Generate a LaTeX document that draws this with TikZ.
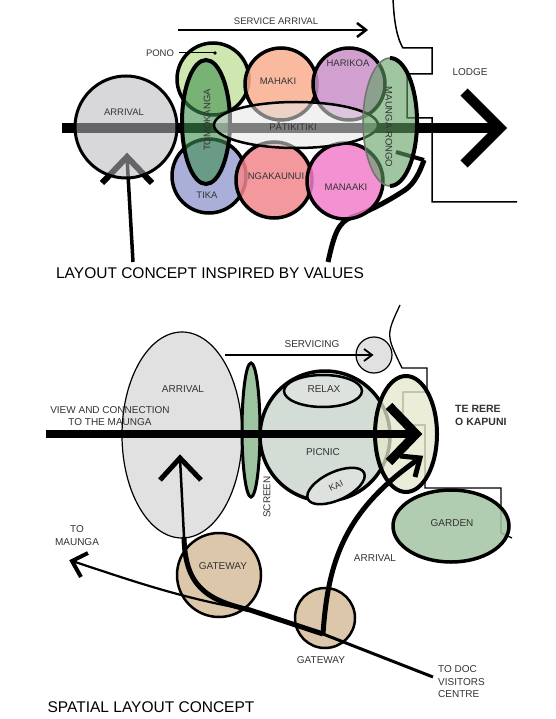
\documentclass[tikz,border=0pt]{standalone}
\usepackage{fontspec}
\setmainfont{Liberation Sans}
\usetikzlibrary{shapes.geometric}
\definecolor{pono}{HTML}{C6E3A3}
\definecolor{tika}{HTML}{9CA2D4}
\definecolor{mahaki}{HTML}{F8AE90}
\definecolor{harikoa}{HTML}{C990C9}
\definecolor{ngak}{HTML}{F2888E}
\definecolor{manaaki}{HTML}{F27ECB}
\definecolor{tomo}{HTML}{3F8F4F}
\definecolor{pati}{HTML}{E4E6E4}
\definecolor{maunga}{HTML}{5FA161}
\definecolor{arrfill}{HTML}{B8B9BC}
\definecolor{lgrey}{HTML}{E1E1E1}
\definecolor{screenc}{HTML}{9DC3A1}
\definecolor{picnic}{HTML}{D3DDD6}
\definecolor{relax}{HTML}{DEE2DE}
\definecolor{terere}{HTML}{E5E8CC}
\definecolor{garden}{HTML}{A3C5A4}
\definecolor{gate}{HTML}{DDC7AB}
\definecolor{txt}{HTML}{333333}
\begin{document}
\begin{tikzpicture}[x=1pt,y=-1pt,
  blob/.style={ellipse,inner sep=0pt,outer sep=0pt,draw=black,line width=3.5pt},
  lbl/.style={inner sep=0pt,text=txt,font=\fontsize{9.5}{11}\selectfont},
  blbl/.style={inner sep=0pt,text=txt,font=\fontsize{10}{12.5}\selectfont},
  title/.style={inner sep=0pt,text=black,font=\fontsize{15.5}{18}\selectfont},
  chev/.style={line width=#1,line join=miter,miter limit=10},
  thinline/.style={line width=1.4pt}]
\useasboundingbox (0,0) rectangle (555,719);
\fill[white] (0,0) rectangle (555,719);

% ================= TOP =================
\coordinate (t-barS) at (62,128);
\coordinate (t-tip) at (500,128);
\draw[line width=10pt] (t-barS) -- (t-tip);
\draw[chev=10pt] (464,92) -- (t-tip) -- (464,164);

% lodge outline
\draw[line width=1.5pt] (393,-2) .. controls (394,25) and (398,40) .. (403,48) -- (432,48) -- (432,74) -- (407,74) -- (407,118) -- (432,118) -- (432,202) -- (517,202);

% curved arrow
\coordinate (t-cS) at (328,262);
\coordinate (t-cT) at (424,160);
\draw[line width=5pt] (t-cS) .. controls (334,235) and (338,222) .. (352,217) .. controls (368,212) and (390,200) .. (405,190) .. controls (414,184) and (420,172) .. (t-cT);
\draw[line width=4pt] (t-cT) -- (396,152);

% arrival up arrow
\coordinate (t-aTip) at (127,157);
\coordinate (t-aEnd) at (133,262);
\draw[chev=6pt] (102,183) -- (t-aTip) -- (152,183);
\draw[line width=3.5pt] (t-aTip) -- (t-aEnd);

% service arrival arrow
\coordinate (t-sS) at (178,30);
\coordinate (t-sE) at (366,30);
\draw[line width=2.5pt] (t-sS) -- (t-sE);
\draw[chev=2.5pt] (357,23) -- (t-sE) -- (357,37);
\node[lbl] (t-service) at (276,21) {SERVICE ARRIVAL};

% value circles
\node[blob,fill=pono,fill opacity=0.85,minimum size=72pt] (pono) at (213,79) {};
\node[blob,fill=mahaki,fill opacity=0.85,minimum size=72pt] (mahaki) at (281,84) {};
\node[blob,fill=harikoa,fill opacity=0.85,minimum size=72pt] (harikoa) at (349,84) {};
\node[blob,fill=tika,fill opacity=0.85,minimum size=74pt] (tika) at (209,176) {};
\node[blob,fill=ngak,fill opacity=0.85,minimum size=76pt] (ngak) at (274,180) {};
\node[blob,fill=manaaki,fill opacity=0.85,minimum size=76pt] (manaaki) at (345,181) {};
\node[blob,fill=tomo,fill opacity=0.6,line width=4pt,minimum width=48pt,minimum height=124pt] (tomo) at (206,122) {};
\node[blob,fill=pati,fill opacity=0.55,line width=2.5pt,minimum width=164pt,minimum height=46pt] (pati) at (296,125) {};
\node[blob,fill=maunga,fill opacity=0.6,draw=black!55,line width=1.5pt,minimum width=54pt,minimum height=128pt] (maunga) at (390,122) {};
\draw[line width=4pt] (maunga.north) arc[start angle=90,end angle=-90,x radius=27pt,y radius=64pt];
\node[blob,fill=arrfill,fill opacity=0.55,line width=3pt,minimum size=102pt] (t-arr) at (126,127) {};

% pono pointer
\node[lbl] (t-pono) at (160,53) {PONO};
\coordinate (t-ponoDot) at (215,53);
\draw[line width=1pt] (t-pono.east) ++(5,0) -- (t-ponoDot);
\fill (t-ponoDot) circle[radius=1.8pt];

% top labels
\node[lbl] at (124,112) {ARRIVAL};
\node[lbl,rotate=90] at (207,120) {TOMOKANGA};
\node[lbl] at (207,195) {TIKA};
\node[lbl] at (278,81) {MAHAKI};
\node[lbl] at (348,63) {HARIKOA};
\node[lbl] at (293,127) {PĀTIKITIKI};
\node[lbl] at (276,176) {NGAKAUNUI};
\node[lbl] at (346,187) {MANAAKI};
\node[lbl,rotate=-90] at (389,127) {MAUNGA RONGO};
\node[lbl,font=\fontsize{10}{12}\selectfont] at (470,72) {LODGE};
\node[title] (t-title) at (210,273) {LAYOUT CONCEPT INSPIRED BY VALUES};

% ================= BOTTOM =================
\node[blob,fill=lgrey,line width=1.2pt,minimum width=120pt,minimum height=206pt] (b-arr) at (182,435) {};
\node[blob,fill=lgrey,line width=1.2pt,minimum size=36pt] (b-svc) at (374,355) {};
\coordinate (b-sv0) at (225,355);
\coordinate (b-sv1) at (372,355);
\draw[line width=1.8pt] (b-sv0) -- (b-sv1);
\draw[chev=1.8pt] (364,349) -- (b-sv1) -- (364,361);

% building outline
\draw[line width=1.3pt] (400,305) .. controls (386,335) .. (402,368) -- (427,368) -- (427,392) -- (403,392) -- (403,425) -- (425,425) -- (425,488) -- (501,488) -- (501,533) -- (512,538);

\node[blob,fill=screenc,line width=3pt,minimum width=18pt,minimum height=134pt] (b-screen) at (251,430) {};
\node[blob,fill=picnic,line width=3.5pt,minimum size=130pt] (b-picnic) at (325,436) {};
\node[blob,fill=relax,line width=2.5pt,minimum width=78pt,minimum height=32pt] (b-relax) at (323,391) {};
\node[blob,fill=relax,line width=2.5pt,minimum width=62pt,minimum height=28pt,rotate=25,text=txt,font=\fontsize{9}{11}\selectfont] (b-kai) at (336,486) {KAI};
\node[blob,fill=garden,fill opacity=0.85,line width=3.5pt,minimum width=116pt,minimum height=72pt] (b-garden) at (451,526) {};
\node[blob,fill=terere,fill opacity=0.75,line width=4pt,minimum width=62pt,minimum height=116pt] (b-terere) at (406,434) {};

% view bar
\coordinate (b-barS) at (46,434);
\coordinate (b-tip) at (416,434);
\draw[line width=8pt] (b-barS) -- (b-tip);
\draw[chev=9pt] (389,406) -- (b-tip) -- (389,462);

% gateways
\node[blob,fill=gate,line width=2.5pt,minimum size=84pt] (b-gate1) at (219,575) {};
\node[blob,fill=gate,line width=2.5pt,minimum size=60pt] (b-gate2) at (325,618) {};

% paths
\coordinate (b-aTip) at (180,458);
\coordinate (b-aBot) at (184,537);
\coordinate (b-join) at (250,610);
\coordinate (b-g2) at (323,634);
\coordinate (b-doc) at (433,677);
\coordinate (b-mTip) at (72,561);
\coordinate (b-rTip) at (420,458);
\draw[chev=5pt] (160,480) -- (b-aTip) -- (201,480);
\draw[line width=2.5pt] (b-aTip) -- (b-aBot);
\draw[line width=5pt] (b-aBot) .. controls (185,585) and (205,600) .. (b-join) -- (b-g2);
\draw[line width=3pt] (b-g2) -- (b-doc);
\draw[line width=2.2pt] (b-mTip) .. controls (130,580) and (180,598) .. (b-join);
\draw[chev=4pt] (88,553) -- (b-mTip) -- (81,577);
\draw[line width=5pt] (b-g2) .. controls (328,560) and (345,510) .. (b-rTip);
\draw[chev=5pt] (400,456) -- (b-rTip) -- (415,477);

% bottom labels
\node[blbl] at (183,389) {ARRIVAL};
\node[blbl,align=center] at (110,416) {VIEW AND CONNECTION\\TO THE MAUNGA};
\node[blbl] at (312,344) {SERVICING};
\node[blbl] at (324,389) {RELAX};
\node[blbl] at (323,452) {PICNIC};
\node[blbl,rotate=90] at (267,497) {SCREEN};
\node[blbl,anchor=west,font=\bfseries\fontsize{10.5}{12.5}\selectfont] at (455,409) {TE RERE};
\node[blbl,anchor=west,font=\bfseries\fontsize{10.5}{12.5}\selectfont] at (455,422) {O KAPUNI};
\node[blbl] at (452,523) {GARDEN};
\node[blbl,align=center,font=\fontsize{10}{13}\selectfont] at (77,536) {TO\\MAUNGA};
\node[blbl] at (223,566) {GATEWAY};
\node[blbl] at (375,558) {ARRIVAL};
\node[blbl] at (321,660) {GATEWAY};
\node[blbl,anchor=west] at (438,669) {TO DOC};
\node[blbl,anchor=west] at (438,682) {VISITORS};
\node[blbl,anchor=west] at (438,694) {CENTRE};
\node[title] (b-title) at (151,707) {SPATIAL LAYOUT CONCEPT};
\end{tikzpicture}
\end{document}
